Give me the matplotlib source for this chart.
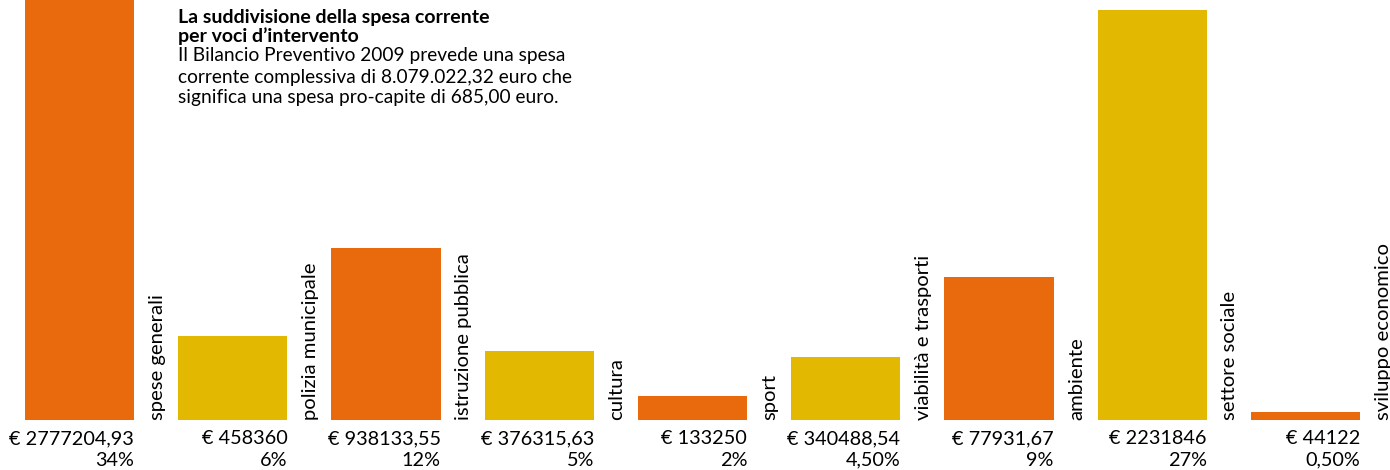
import matplotlib
matplotlib.use("Agg")
from matplotlib import pyplot as plt

plt.rcParams["font.family"] = ["Lato", "DejaVu Sans"]

# data
categories = ["spese generali", "polizia municipale", "istruzione pubblica", "cultura",
              "sport", "viabilità e trasporti", "ambiente", "settore sociale",
              "sviluppo economico"]
values = [2777204.93, 458360, 938133.55, 376315.63, 133250, 340488.54, 779316.7,
          2231846, 44122]
value_labels = ["€ 2777204,93", "€ 458360", "€ 938133,55", "€ 376315,63", "€ 133250",
                "€ 340488,54", "€ 77931,67", "€ 2231846", "€ 44122"]
percents = ["34%", "6%", "12%", "5%", "2%", "4,50%", "9%", "27%", "0,50%"]

orange = "#E96A0C"
yellow = "#E2B800"
colors = [orange if i % 2 == 0 else yellow for i in range(len(values))]

fig = plt.figure(figsize=(13.9, 4.7), dpi=100)
ax = fig.add_axes([0, 0, 1, 1])
ax.axis("off")

px = 5443.5  # euro per pixel
width = 0.713
x = list(range(len(values)))
ax.bar(x, values, width=width, color=colors)
ax.set_xlim(-0.519, 8.551)
ax.set_ylim(-50 * px, 420 * px)

for i, (cat, vl, pc) in enumerate(zip(categories, value_labels, percents)):
    right = i + width / 2
    ax.text(right + 0.15, 0, cat, rotation=90, ha="center", va="bottom",
            fontsize=14.6)
    ax.text(right, -19 * px, vl, ha="right", va="center", fontsize=14.3)
    ax.text(right, -40 * px, pc, ha="right", va="center", fontsize=14.3)

title_x = 178 / 1390
fig.text(title_x, 1 - 17 / 470, "La suddivisione della spesa corrente", fontsize=14,
         fontweight="bold", va="center")
fig.text(title_x, 1 - 36 / 470, "per voci d’intervento", fontsize=14,
         fontweight="bold", va="center")
body = ["Il Bilancio Preventivo 2009 prevede una spesa",
        "corrente complessiva di 8.079.022,32 euro che",
        "significa una spesa pro-capite di 685,00 euro."]
for k, line in enumerate(body):
    fig.text(title_x, 1 - (56 + 21 * k) / 470, line, fontsize=13.8, va="center")

fig.savefig("out.png", dpi=100)
